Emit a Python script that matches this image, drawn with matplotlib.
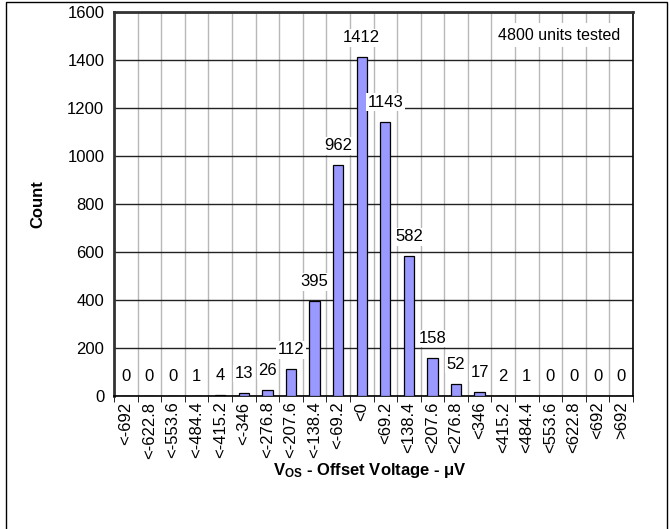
import matplotlib.pyplot as plt
import numpy as np
from matplotlib.patches import Rectangle

plt.rcParams['font.family'] = ['Liberation Sans', 'DejaVu Sans']
plt.rcParams['mathtext.fontset'] = 'custom'
plt.rcParams['mathtext.rm'] = 'Liberation Sans'
plt.rcParams['mathtext.bf'] = 'Liberation Sans:bold'

# Histogram bins and counts
bins = ['<-692', '<-622.8', '<-553.6', '<-484.4', '<-415.2', '<-346', '<-276.8',
        '<-207.6', '<-138.4', '<-69.2', '<0', '<69.2', '<138.4', '<207.6',
        '<276.8', '<346', '<415.2', '<484.4', '<553.6', '<622.8', '<692', '>692']
counts = [0, 0, 0, 1, 4, 13, 26, 112, 395, 962, 1412, 1143, 582, 158,
          52, 17, 2, 1, 0, 0, 0, 0]
units_note = '4800 units tested'

fig = plt.figure(figsize=(6.69, 5.29), dpi=100)
fig.patch.set_facecolor('white')
ax = fig.add_axes([114/669, 1 - 396/529, (633 - 114)/669, (396 - 12)/529])

x = np.arange(len(bins)) + 0.5
ax.bar(x, counts, width=0.44, color='#9999ff', edgecolor='black', linewidth=0.9, zorder=3)

# value labels above each bar
for xi, c in zip(x, counts):
    ax.annotate(str(c), (xi, c), xytext=(0, 14), textcoords='offset points',
                ha='center', va='center', fontsize=12, zorder=4,
                bbox=dict(facecolor='white', edgecolor='none', pad=1))

ax.set_xlim(0, len(bins))
ax.set_ylim(0, 1600)
ax.set_yticks(np.arange(0, 1601, 200))
ax.tick_params(axis='y', length=0, labelsize=12, pad=7)

# boundary ticks / grid, labels at centers
ax.set_xticks(np.arange(0, len(bins) + 1), minor=True)
ax.set_xticks(x)
ax.set_xticklabels(bins, rotation=90, fontsize=12)
ax.tick_params(axis='x', which='major', length=0, pad=4)
ax.tick_params(axis='x', which='minor', length=4, direction='out', color='black')
ax.grid(axis='x', which='minor', color='#b8b8b8', linewidth=1, zorder=0)
ax.grid(axis='y', which='major', color='#222222', linewidth=1, zorder=1)
ax.grid(axis='x', which='major', visible=False)

for s in ['left', 'top']:
    ax.spines[s].set_linewidth(2)
    ax.spines[s].set_color('#333333')
for s in ['right', 'bottom']:
    ax.spines[s].set_linewidth(1.2)
    ax.spines[s].set_color('black')

ax.text(0.857, 0.94, units_note, transform=ax.transAxes, ha='center', va='center',
        fontsize=11.5, zorder=5, bbox=dict(facecolor='white', edgecolor='none', pad=3))

ax.set_ylabel('Count', fontsize=12, fontweight='bold', labelpad=16)
fig.text(370/669, 1 - 471/529, r'$\mathbf{V_{OS}}$ - Offset Voltage - μV',
         ha='center', va='center', fontsize=12, fontweight='bold')

# outer frame
fig.add_artist(Rectangle((6/669, -0.05), (667 - 6)/669, 1.05 - 2/529, transform=fig.transFigure,
                         fill=False, edgecolor='black', linewidth=1))

fig.savefig('out.png', dpi=100)
